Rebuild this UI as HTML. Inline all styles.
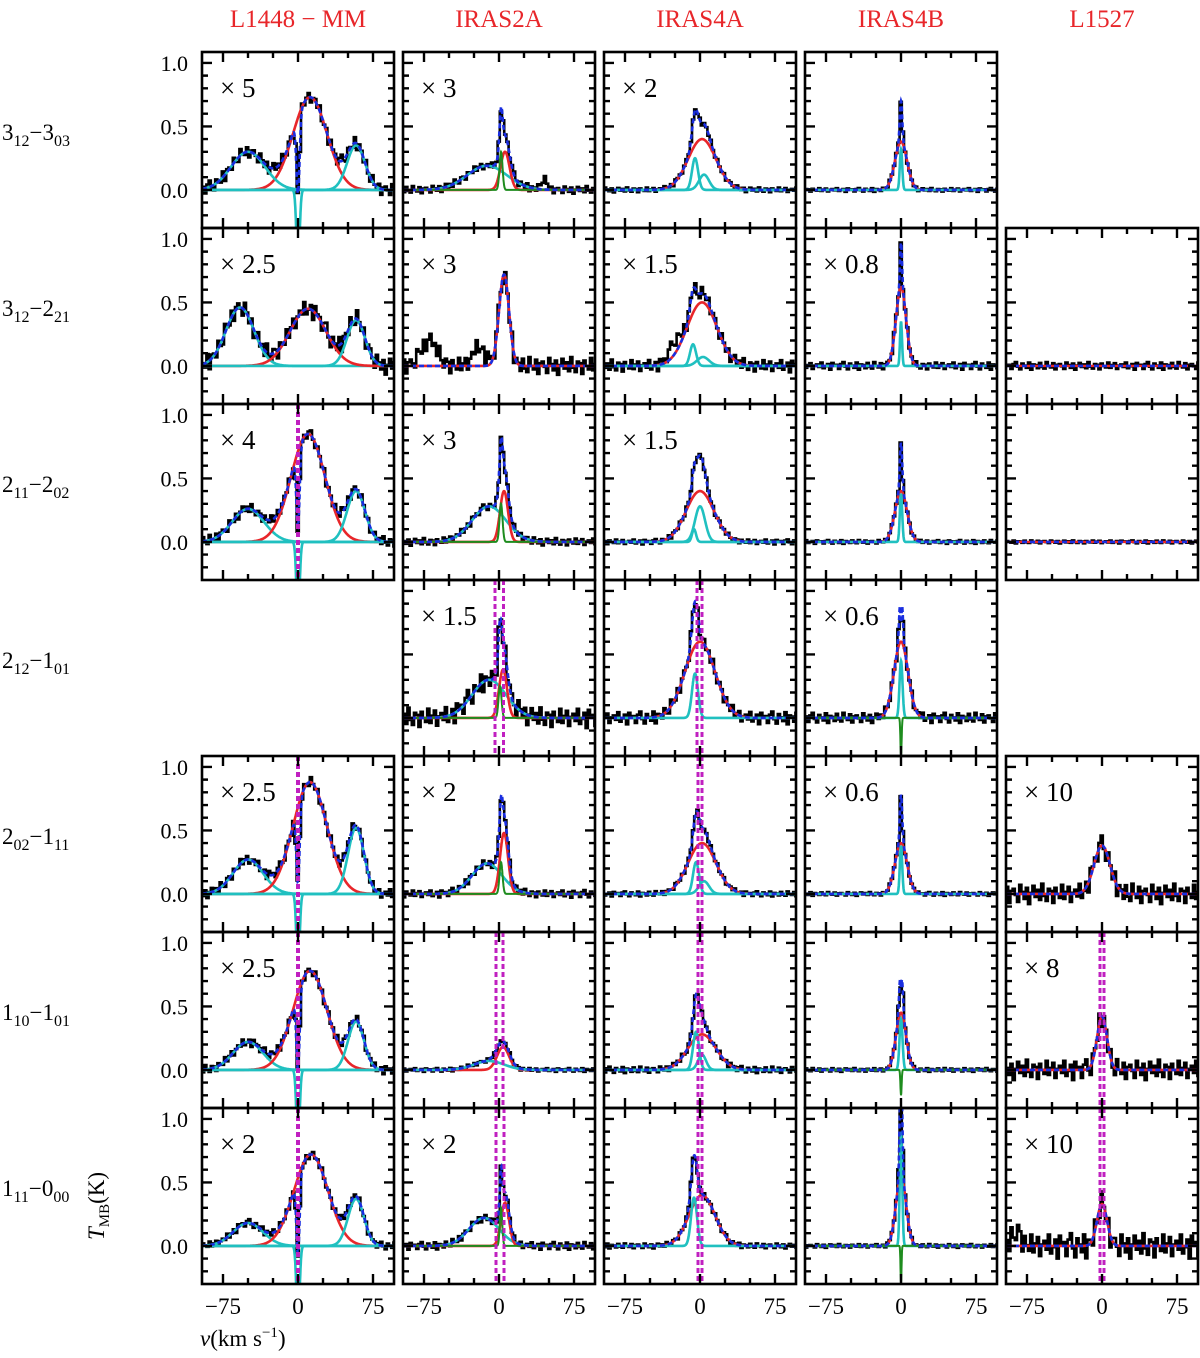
<!DOCTYPE html>
<html><head><meta charset="utf-8"><style>
body{margin:0;background:#fff}
svg{display:block;font-family:"Liberation Serif",serif}
</style></head><body>
<svg id="chart" width="1200" height="1358" viewBox="0 0 1200 1358" xmlns="http://www.w3.org/2000/svg"></svg>
<script>
// ---- data ----
const sources = ["L1448 \u2212 MM","IRAS2A","IRAS4A","IRAS4B","L1527"];
const transitions = [["3","12","3","03"],["3","12","2","21"],["2","11","2","02"],["2","12","1","01"],["2","02","1","11"],["1","10","1","01"],["1","11","0","00"]];
const yTicks = [0.0,0.5,1.0];
const xTicks = [-75,0,75];
// components per panel: [type, amp, center, sigma]; type r=red,c=cyan,g=green,x=data-only
const panels = [
 // row 0
 [{s:"\u00d7 5",n:0.05,c:[["r",0.73,12,17],["c",0.3,-50,17],["c",0.35,58,9],["c",-0.6,0,1.6]],m:[]},
  {s:"\u00d7 3",n:0.03,c:[["c",0.19,-12,20],["r",0.3,6,4.5],["g",0.3,2,1.5],["x",0.08,45,3]],m:[]},
  {s:"\u00d7 2",n:0.02,c:[["r",0.4,2,14],["c",0.25,-5,3],["c",0.12,4,5]],m:[]},
  {s:"",n:0.015,c:[["r",0.38,0,6],["c",0.32,0,1.2]],m:[]},
  null],
 // row 1
 [{s:"\u00d7 2.5",n:0.07,c:[["c",0.46,-58,14],["r",0.45,10,18],["c",0.36,58,9]],m:[]},
  {s:"\u00d7 3",n:0.07,c:[["r",0.72,5,5],["x",0.2,-70,8],["x",0.15,-20,6]],m:[]},
  {s:"\u00d7 1.5",n:0.05,c:[["r",0.5,2,15],["c",0.17,-7,3],["c",0.07,3,6],["x",0.1,-25,6]],m:[]},
  {s:"\u00d7 0.8",n:0.03,c:[["r",0.62,0,5],["c",0.35,0,1]],m:[]},
  {s:"",n:0.03,c:[],m:[]}],
 // row 2
 [{s:"\u00d7 4",n:0.04,c:[["c",0.26,-50,16],["r",0.85,10,17],["c",0.4,58,9],["c",-0.6,0,1.6]],m:[0]},
  {s:"\u00d7 3",n:0.03,c:[["c",0.28,-10,17],["r",0.4,5,4],["g",0.3,2,1.5]],m:[]},
  {s:"\u00d7 1.5",n:0.02,c:[["r",0.4,0,14],["c",0.28,0,5],["c",0.1,-6,2]],m:[]},
  {s:"",n:0.015,c:[["r",0.4,0,6],["c",0.38,0,1.2]],m:[]},
  {s:"",n:0.012,c:[],m:[]}],
 // row 3
 [null,
  {s:"\u00d7 1.5",n:0.08,c:[["c",0.3,-10,17],["r",0.38,4,4],["g",0.25,1,1.5]],m:[-4,4.5]},
  {s:"",n:0.05,c:[["r",0.6,0,15],["c",0.35,-5,3]],m:[-3,2]},
  {s:"\u00d7 0.6",n:0.04,c:[["r",0.6,0,7],["c",0.45,0,1.5],["g",-0.3,0,0.6]],m:[]},
  null],
 // row 4
 [{s:"\u00d7 2.5",n:0.04,c:[["c",0.27,-50,15],["r",0.88,12,17],["c",0.52,58,8],["c",-0.6,0,1.6]],m:[0]},
  {s:"\u00d7 2",n:0.03,c:[["c",0.24,-12,15],["r",0.48,5,4],["g",0.25,2,1.5]],m:[]},
  {s:"",n:0.02,c:[["r",0.4,2,14],["c",0.25,-4,3],["c",0.1,4,5]],m:[-2,2]},
  {s:"\u00d7 0.6",n:0.015,c:[["r",0.4,0,6],["c",0.38,0,1.2]],m:[]},
  {s:"\u00d7 10",n:0.08,c:[["r",0.38,0,8]],m:[]}],
 // row 5
 [{s:"\u00d7 2.5",n:0.035,c:[["c",0.22,-50,15],["r",0.78,12,17],["c",0.38,58,8],["c",-0.6,0,1.6]],m:[0]},
  {s:"",n:0.015,c:[["r",0.18,4,6],["c",0.07,-10,15]],m:[-3,4]},
  {s:"",n:0.025,c:[["r",0.28,2,14],["c",0.3,-4,3],["c",0.12,2,4]],m:[-2,2]},
  {s:"",n:0.015,c:[["r",0.45,0,5],["c",0.4,0,1.5],["g",-0.2,0,0.6]],m:[]},
  {s:"\u00d7 8",n:0.08,c:[["r",0.42,0,5]],m:[-2,2]}],
 // row 6
 [{s:"\u00d7 2",n:0.03,c:[["c",0.18,-50,15],["r",0.72,13,17],["c",0.37,58,8],["c",-0.6,0,1.6]],m:[0]},
  {s:"\u00d7 2",n:0.03,c:[["c",0.22,-15,15],["r",0.34,6,4],["g",0.3,2,1.2]],m:[-3,5]},
  {s:"",n:0.02,c:[["r",0.4,2,13],["c",0.38,-6,3]],m:[-2,2]},
  {s:"",n:0.015,c:[["r",0.55,0,5],["c",0.9,0,1.2],["g",-0.3,0,0.5]],m:[]},
  {s:"\u00d7 10",n:0.1,c:[["r",0.33,0,5],["x",0.12,-85,4]],m:[-2,2]}]
];
const residual = [0.3,-0.8,0.5,1.0,-0.2,-0.9,0.6,0.1,-0.5,0.9,-1.0,0.4,0.2,-0.6,0.8,-0.3,-0.7,1.0,0.0,-0.4,0.7,-0.9,0.3,0.5,-0.1,-0.8,0.9,0.2,-0.5,0.6,-1.0,0.1,0.8,-0.3,0.4,-0.6,1.0,-0.2,-0.7,0.5,0.3,-0.9,0.6,0.0,-0.4,0.9,-0.5,0.2,0.7,-0.8,0.1,0.4,-0.3,0.9,-0.6,-0.1,0.5,-1.0,0.8,0.2];

// ---- layout ----
const NS="http://www.w3.org/2000/svg";
const svg=document.getElementById('chart');
const colL=[202,403,604,805,1006], PW=192, rowT=52, PH=176;
const xMin=-96,xMax=96,yMin=-0.3,yMax=1.086;
function mk(tag,attrs,parent){const e=document.createElementNS(NS,tag);for(const k in attrs)e.setAttribute(k,attrs[k]);(parent||svg).appendChild(e);return e;}
function gauss(v,a,c,s){return a*Math.exp(-0.5*((v-c)/s)**2);}

// titles
sources.forEach((s,i)=>{
  const t=mk('text',{x:colL[i]+PW/2,y:27,'text-anchor':'middle','font-size':25,fill:'#e8262a'});
  
  
  t.textContent=s;
});
transitions.forEach((tr,r)=>{
  const t=mk('text',{x:2,y:rowT+r*PH+88,'font-size':23});
  
  
  t.innerHTML=tr[0]+'<tspan font-size="16" dy="6">'+tr[1]+'</tspan><tspan dy="-6">\u2212'+tr[2]+'</tspan><tspan font-size="16" dy="6">'+tr[3]+'</tspan>';
});

panels.forEach((row,r)=>row.forEach((p,c)=>{
  if(!p)return;
  const L=colL[c],T=rowT+r*PH;
  const X=v=>L+(v-xMin)/(xMax-xMin)*PW;
  const Y=y=>T+(yMax-y)/(yMax-yMin)*PH;
  const g=mk('g',{});
  
  
  const cp=mk('clipPath',{id:'cp'+r+c},g);
  mk('rect',{x:L,y:T,width:PW,height:PH},cp);
  const gc=mk('g',{'clip-path':'url(#cp'+r+c+')'},g);
  const model=v=>p.c.filter(k=>k[0]!=='x').reduce((s,k)=>s+gauss(v,k[1],k[2],k[3]),0);
  const obs=v=>p.c.reduce((s,k)=>s+gauss(v,k[1],k[2],k[3]),0);
  let d='';const ch=2.2;let i=0;
  for(let v=xMin;v<xMax;v+=ch,i++){
    const y=obs(v+ch/2)+p.n*residual[(i+r*7+c*13)%residual.length];
    d+=(i===0?'M':'L')+X(v).toFixed(1)+','+Y(y).toFixed(1)+'L'+X(v+ch).toFixed(1)+','+Y(y).toFixed(1);
  }
  const dl=mk('path',{d:d,fill:'none',stroke:'#000','stroke-width':2.6},gc);
  
  
  const curve=f=>{let s='';for(let v=xMin;v<=xMax;v+=0.25)s+=(s?'L':'M')+X(v).toFixed(1)+','+Y(f(v)).toFixed(1);return s;};
  const cols={r:'#e8262a',c:'#20c0c0',g:'#1e8c1e'};
  p.c.forEach(k=>{
    if(k[0]==='x')return;
    const e=mk('path',{d:curve(v=>gauss(v,k[1],k[2],k[3])),fill:'none',stroke:cols[k[0]],'stroke-width':k[0]==='g'?2:2.6},gc);
    
    
  });
  if(!p.c.some(k=>k[0]==='r')){mk('path',{d:curve(v=>0),fill:'none',stroke:'#e8262a','stroke-width':2.4},gc);}
  const tf=mk('path',{d:curve(model),fill:'none',stroke:'#1a2ee0','stroke-width':2.6,'stroke-dasharray':'5,3'},gc);
  
  
  p.m.forEach(mv=>{
    const e=mk('line',{x1:X(mv),x2:X(mv),y1:T,y2:T+PH,stroke:'#c020c0','stroke-width':c===0?4:3,'stroke-dasharray':'5,3'},gc);
    
    
  });
  const fr=mk('rect',{x:L,y:T,width:PW,height:PH,fill:'none',stroke:'#000','stroke-width':2.6},g);
  
  
  let td='';
  for(let v=-75;v<=75;v+=25){const len=(v%75===0)?10:6;td+=`M${X(v)},${T+PH}v${-len}M${X(v)},${T}v${len}`;}
  for(let k=-2;k<=10;k++){const y=k/10;const len=(k%5===0)?10:6;td+=`M${L},${Y(y)}h${len}M${L+PW},${Y(y)}h${-len}`;}
  mk('path',{d:td,stroke:'#000','stroke-width':2.4,fill:'none'},g);
  if(p.s){const t=mk('text',{x:L+18,y:T+45,'font-size':27},g);
    
    
    t.textContent=p.s;}
  if(c===0){yTicks.forEach(y=>{const t=mk('text',{x:L-14,y:Y(y)+8,'text-anchor':'end','font-size':22},g);
    
    
    t.textContent=y.toFixed(1);});}
  if(r===6){xTicks.forEach(v=>{const t=mk('text',{x:X(v),y:T+PH+30,'text-anchor':'middle','font-size':23},g);
    
    
    t.textContent=(v<0?'\u2212':'')+Math.abs(v);});}
}));
const yt=mk('text',{x:0,y:0,'font-size':23,transform:'translate(104,1240) rotate(-90)'});


yt.innerHTML='<tspan font-style="italic">T</tspan><tspan font-size="15" dy="5">MB</tspan><tspan dy="-5">(K)</tspan>';
const xt=mk('text',{x:200,y:1346,'font-size':23});


xt.innerHTML='<tspan font-style="italic">v</tspan>(km s<tspan font-size="15" dy="-9">\u22121</tspan><tspan dy="9">)</tspan>';
</script>
</body></html>
